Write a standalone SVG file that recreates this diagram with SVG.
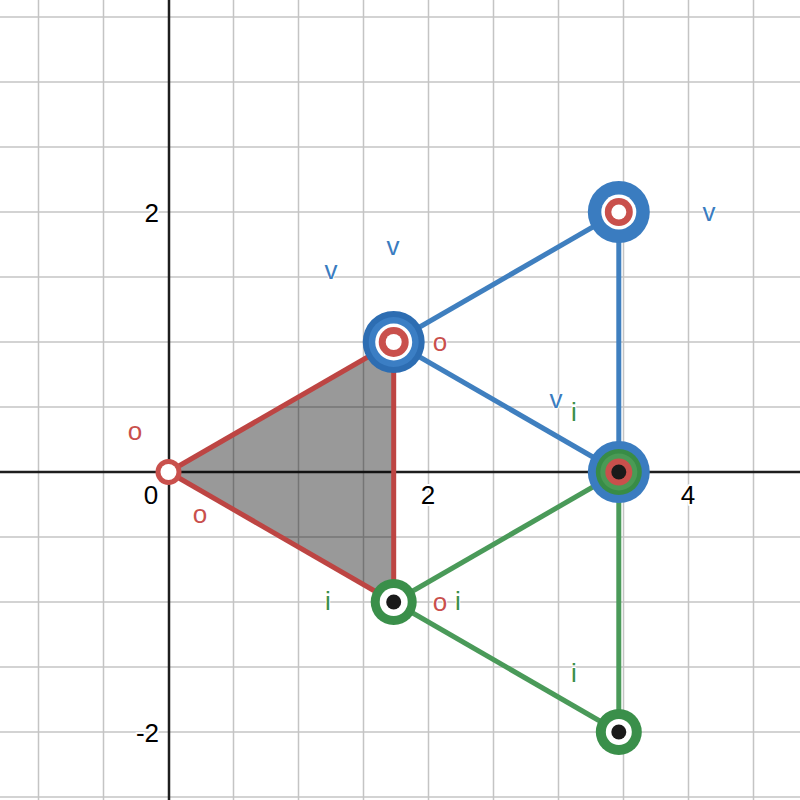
<svg xmlns="http://www.w3.org/2000/svg" width="800" height="800" viewBox="0 0 800 800">
<style>
.grid line{stroke:#c4c4c4;stroke-width:1.5}
.axis{stroke:#1e1e1e;stroke-width:2.5}
.tick{font-family:"Liberation Sans",Arial,sans-serif;font-size:26px;fill:#000;stroke:#fff;stroke-width:4;paint-order:stroke;stroke-linejoin:round}
.lbl{font-family:"Liberation Sans",Arial,sans-serif;font-size:26px;text-anchor:middle;stroke:#fff;stroke-width:2;paint-order:stroke;stroke-linejoin:round}
.b{fill:#3a7cc0}.r{fill:#c9504c}.g{fill:#3a8f4a}
.lb{stroke:#3f7fbf;stroke-width:5;fill:none}
.lr{stroke:#bd4543;stroke-width:5;fill:none}
.lg{stroke:#4a9a59;stroke-width:5;fill:none}
</style>
<rect width="800" height="800" fill="#fff"/>
<g class="grid">
<line x1="38.5" y1="0" x2="38.5" y2="800"/><line x1="103.5" y1="0" x2="103.5" y2="800"/>
<line x1="233.5" y1="0" x2="233.5" y2="800"/><line x1="298.5" y1="0" x2="298.5" y2="800"/>
<line x1="363.5" y1="0" x2="363.5" y2="800"/><line x1="428.5" y1="0" x2="428.5" y2="800"/>
<line x1="493.5" y1="0" x2="493.5" y2="800"/><line x1="558.5" y1="0" x2="558.5" y2="800"/>
<line x1="623.5" y1="0" x2="623.5" y2="800"/><line x1="688.5" y1="0" x2="688.5" y2="800"/>
<line x1="753.5" y1="0" x2="753.5" y2="800"/>
<line x1="0" y1="17" x2="800" y2="17"/><line x1="0" y1="82" x2="800" y2="82"/>
<line x1="0" y1="147" x2="800" y2="147"/><line x1="0" y1="212" x2="800" y2="212"/>
<line x1="0" y1="277" x2="800" y2="277"/><line x1="0" y1="342" x2="800" y2="342"/>
<line x1="0" y1="407" x2="800" y2="407"/><line x1="0" y1="537" x2="800" y2="537"/>
<line x1="0" y1="602" x2="800" y2="602"/><line x1="0" y1="667" x2="800" y2="667"/>
<line x1="0" y1="732" x2="800" y2="732"/><line x1="0" y1="797" x2="800" y2="797"/>
</g>
<g id="axes">
<line class="axis" x1="0" y1="472" x2="800" y2="472"/>
<line class="axis" x1="169" y1="0" x2="169" y2="800"/>
<text class="tick" x="151" y="504" text-anchor="middle">0</text>
<text class="tick" x="428" y="504" text-anchor="middle">2</text>
<text class="tick" x="688" y="504" text-anchor="middle">4</text>
<text class="tick" x="159" y="222" text-anchor="end">2</text>
<text class="tick" x="159" y="742" text-anchor="end">-2</text>
</g>
<polygon id="shade" points="168.5,472 393.7,342 393.7,602" fill="#000" fill-opacity="0.4"/>
<g id="connectors">
<line class="lb" x1="393.7" y1="342" x2="618.8" y2="212"/>
<line class="lb" x1="393.7" y1="342" x2="618.8" y2="472"/>
<line class="lb" x1="618.8" y1="212" x2="618.8" y2="472"/>
<line class="lr" x1="168.5" y1="472" x2="393.7" y2="342"/>
<line class="lr" x1="168.5" y1="472" x2="393.7" y2="602"/>
<line class="lr" x1="393.7" y1="342" x2="393.7" y2="602"/>
<line class="lg" x1="618.8" y1="472" x2="393.7" y2="602"/>
<line class="lg" x1="393.7" y1="602" x2="618.8" y2="732"/>
<line class="lg" x1="618.8" y1="472" x2="618.8" y2="732"/>
</g>
<g id="node-o">
<circle cx="168.5" cy="472" r="13" class="r"/>
<circle cx="168.5" cy="472" r="8" fill="#fff"/>
</g>
<g id="node-a">
<circle cx="393.7" cy="342" r="31" fill="#2d6db2"/>
<circle cx="393.7" cy="342" r="25" fill="#3b7ec4"/>
<circle cx="393.7" cy="342" r="18.5" fill="#fff"/>
<circle cx="393.7" cy="342" r="15" class="r"/>
<circle cx="393.7" cy="342" r="8" fill="#fff"/>
</g>
<g id="node-b">
<circle cx="618.8" cy="212" r="31" class="b"/>
<circle cx="618.8" cy="212" r="17.5" fill="#fff"/>
<circle cx="618.8" cy="212" r="14" class="r"/>
<circle cx="618.8" cy="212" r="7.5" fill="#fff"/>
</g>
<g id="node-c">
<circle cx="618.8" cy="472" r="31" class="b"/>
<circle cx="618.8" cy="472" r="23" fill="#388c46"/>
<circle cx="618.8" cy="472" r="18.5" fill="#4a9a55"/>
<circle cx="618.8" cy="472" r="13.5" class="r"/>
<circle cx="618.8" cy="472" r="7.5" fill="#1a1a1a"/>
</g>
<g id="node-d">
<circle cx="393.7" cy="602" r="23" fill="#3a8f4a"/>
<circle cx="393.7" cy="602" r="14" fill="#fff"/>
<circle cx="393.7" cy="602" r="7.5" fill="#1a1a1a"/>
</g>
<g id="node-e">
<circle cx="618.8" cy="732" r="23" fill="#3a8f4a"/>
<circle cx="618.8" cy="732" r="13" fill="#fff"/>
<circle cx="618.8" cy="732" r="7.5" fill="#1a1a1a"/>
</g>
<g id="labels">
<text class="lbl b" x="331" y="279">v</text>
<text class="lbl b" x="393" y="255">v</text>
<text class="lbl b" x="709" y="221">v</text>
<text class="lbl b" x="556" y="408">v</text>
<text class="lbl r" x="440" y="351">o</text>
<text class="lbl r" x="135" y="440">o</text>
<text class="lbl r" x="200" y="523">o</text>
<text class="lbl r" x="440" y="611">o</text>
<text class="lbl g" x="574" y="421">i</text>
<text class="lbl g" x="328" y="610">i</text>
<text class="lbl g" x="458" y="610">i</text>
<text class="lbl g" x="574" y="682">i</text>
</g>
</svg>
